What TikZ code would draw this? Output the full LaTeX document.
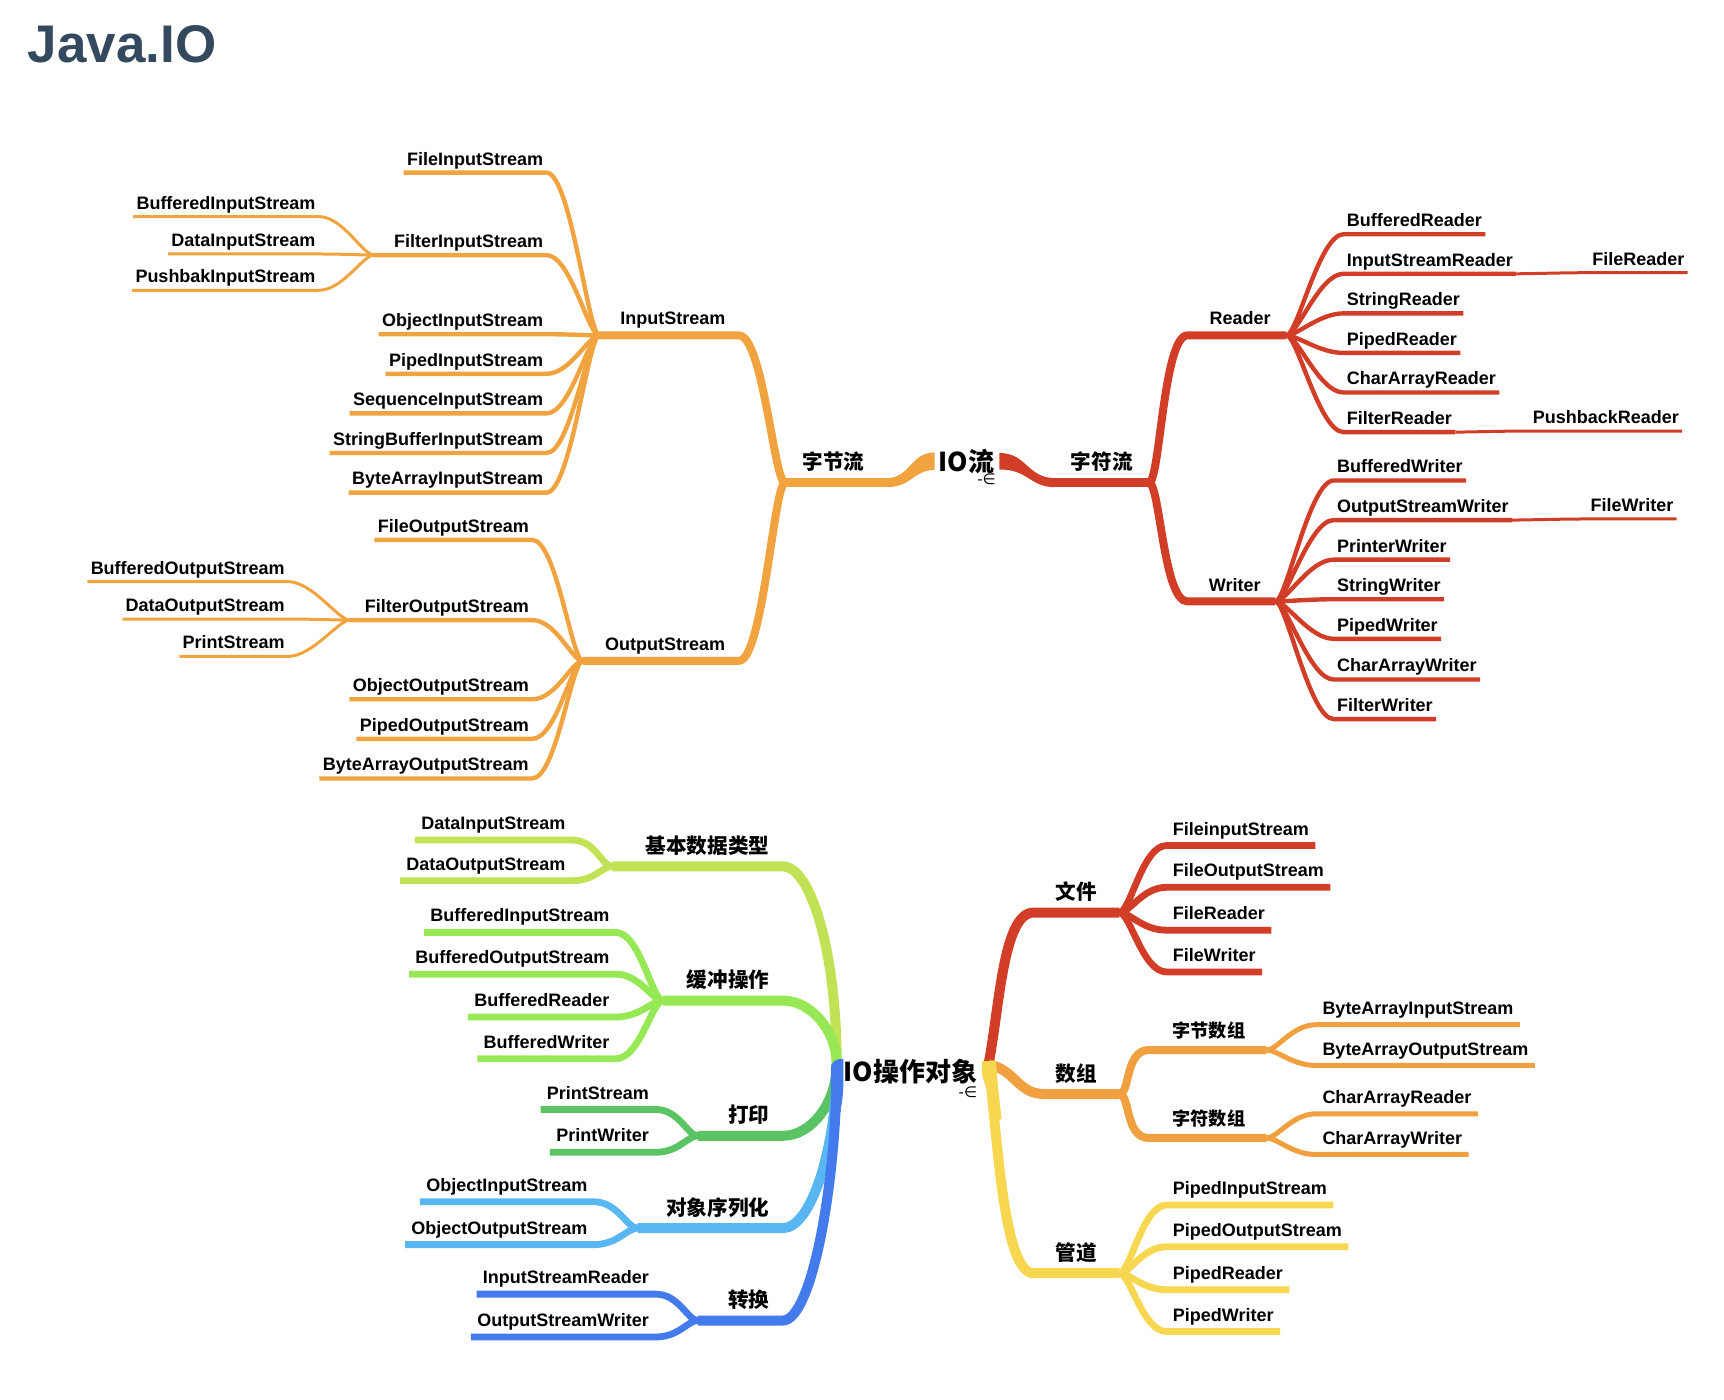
\documentclass[tikz,border=0pt]{standalone}
\usepackage{fontspec}
\setmainfont{Liberation Sans}
\newfontfamily\cjk{Noto Sans CJK SC}
\newfontfamily\dejavu{DejaVu Sans}
\usetikzlibrary{positioning}
\definecolor{titleblue}{RGB}{52,73,94}
\definecolor{ioorange}{RGB}{240,163,62}
\definecolor{iored}{RGB}{209,61,38}
\definecolor{oplime}{RGB}{193,226,84}
\definecolor{opgreen}{RGB}{150,233,85}
\definecolor{opprint}{RGB}{90,195,100}
\definecolor{opsky}{RGB}{88,183,243}
\definecolor{opblue}{RGB}{67,122,236}
\definecolor{opred}{RGB}{209,61,38}
\definecolor{oporange}{RGB}{240,160,62}
\definecolor{opyellow}{RGB}{247,214,80}

\begin{document}
\begin{tikzpicture}[
  x=0.55pt, y=-0.55pt,
  leaf/.style={font=\bfseries\fontsize{9}{10}\selectfont, text depth=0pt, inner xsep=1.5pt, inner ysep=3.6pt},
  bleaf/.style={leaf, inner xsep=3pt, inner ysep=5pt},
  mlabel/.style={font=\bfseries\fontsize{9}{10}\selectfont, text depth=0pt, inner xsep=0pt, inner ysep=5pt},
  hlabel/.style={font=\cjk\bfseries\fontsize{10.3}{12}\selectfont, text depth=0pt, inner xsep=0pt, inner ysep=6.3pt},
  slabel/.style={hlabel, font=\cjk\bfseries\fontsize{9.1}{11}\selectfont, inner ysep=6.2pt},
  rootlabel/.style={font=\cjk\bfseries\fontsize{13}{15}\selectfont, inner sep=0pt},
  fold/.style={font=\dejavu\fontsize{7.5}{8}\selectfont, inner sep=0pt},
  bl/.style={to path={.. controls +(-10,0) and +(22,0) .. (\tikztotarget) \tikztonodes}},
  br/.style={to path={.. controls +(10,0) and +(-22,0) .. (\tikztotarget) \tikztonodes}},
  w1/.style={line width=4.5pt},
  w2/.style={line width=4pt},
  w3/.style={line width=2.2pt},
  w4/.style={line width=1.5pt},
  v1/.style={line width=5pt},
  v2/.style={line width=3.4pt},
  v3/.style={line width=2.5pt}
]
\useasboundingbox (0,0) rectangle (1568,1273);

\node[font=\bfseries\fontsize{26.5}{30}\selectfont, text=titleblue, anchor=base west, inner sep=0pt] (title) at (25,57) {Java.IO};

% ---------------- IO流 ----------------
\node[rootlabel] (io) at (879,420) {IO流};
\node[fold, anchor=north east] (iofold) at (906,431) {-∈};
\fill[ioorange] (850,411.5) .. controls (828,411.5) and (828,434.9) .. (806,434.9) -- (806,443.1) .. controls (830,443.1) and (830,427.5) .. (850,427.5) -- cycle;
\fill[iored] (909,412) .. controls (934,412) and (934,434.9) .. (960,434.9) -- (960,443.1) .. controls (936,443.1) and (936,427) .. (909,427) -- cycle;

% 字节流
\coordinate (bs-o) at (807,439);
\coordinate (bs-j) at (714,439);
\node[hlabel, anchor=south] (bs) at (758,439) {字节流};
\draw[w1, ioorange] (bs-o) -- (bs-j);

% InputStream
\coordinate (is-o) at (672,305);
\coordinate (is-j) at (545,305);
\node[mlabel, anchor=south] (is) at (612,305) {InputStream};
\draw[w2, ioorange] (bs-j) to[bl] (is-o) -- (is-j);

\node[leaf, anchor=south east] (fis) at (497,157) {FileInputStream};
\node[leaf, anchor=south east] (filis) at (497,232) {FilterInputStream};
\coordinate (filis-j) at (340,232);
\node[leaf, anchor=south east] (ois) at (497,304) {ObjectInputStream};
\node[leaf, anchor=south east] (pis) at (497,340) {PipedInputStream};
\node[leaf, anchor=south east] (sqis) at (497,376) {SequenceInputStream};
\node[leaf, anchor=south east] (sbis) at (497,412) {StringBufferInputStream};
\node[leaf, anchor=south east] (bais) at (497,448) {ByteArrayInputStream};
\draw[w3, ioorange] (is-j) to[bl] (fis.south east) -- (fis.south west);
\draw[w3, ioorange] (is-j) to[bl] (filis.south east) -- (filis-j);
\draw[w3, ioorange] (is-j) to[bl] (ois.south east) -- (ois.south west);
\draw[w3, ioorange] (is-j) to[bl] (pis.south east) -- (pis.south west);
\draw[w3, ioorange] (is-j) to[bl] (sqis.south east) -- (sqis.south west);
\draw[w3, ioorange] (is-j) to[bl] (sbis.south east) -- (sbis.south west);
\draw[w3, ioorange] (is-j) to[bl] (bais.south east) -- (bais.south west);

\node[leaf, anchor=south east] (bfis) at (290,197) {BufferedInputStream};
\node[leaf, anchor=south east] (dis) at (290,231) {DataInputStream};
\node[leaf, anchor=south east] (pbis) at (290,264) {PushbakInputStream};
\draw[w4, ioorange] (filis-j) to[bl] (bfis.south east) -- (bfis.south west);
\draw[w4, ioorange] (filis-j) to[bl] (dis.south east) -- (dis.south west);
\draw[w4, ioorange] (filis-j) to[bl] (pbis.south east) -- (pbis.south west);

% OutputStream
\coordinate (os-o) at (672,601);
\coordinate (os-j) at (530,601);
\node[mlabel, anchor=south] (os) at (605,601) {OutputStream};
\draw[w2, ioorange] (bs-j) to[bl] (os-o) -- (os-j);

\node[leaf, anchor=south east] (fos) at (484,491) {FileOutputStream};
\node[leaf, anchor=south east] (filos) at (484,564) {FilterOutputStream};
\coordinate (filos-j) at (318,564);
\node[leaf, anchor=south east] (oos) at (484,636) {ObjectOutputStream};
\node[leaf, anchor=south east] (pos) at (484,672) {PipedOutputStream};
\node[leaf, anchor=south east] (baos) at (484,708) {ByteArrayOutputStream};
\draw[w3, ioorange] (os-j) to[bl] (fos.south east) -- (fos.south west);
\draw[w3, ioorange] (os-j) to[bl] (filos.south east) -- (filos-j);
\draw[w3, ioorange] (os-j) to[bl] (oos.south east) -- (oos.south west);
\draw[w3, ioorange] (os-j) to[bl] (pos.south east) -- (pos.south west);
\draw[w3, ioorange] (os-j) to[bl] (baos.south east) -- (baos.south west);

\node[leaf, anchor=south east] (bfos) at (262,529) {BufferedOutputStream};
\node[leaf, anchor=south east] (dos) at (262,563) {DataOutputStream};
\node[leaf, anchor=south east] (ps) at (262,597) {PrintStream};
\draw[w4, ioorange] (filos-j) to[bl] (bfos.south east) -- (bfos.south west);
\draw[w4, ioorange] (filos-j) to[bl] (dos.south east) -- (dos.south west);
\draw[w4, ioorange] (filos-j) to[bl] (ps.south east) -- (ps.south west);

% 字符流
\coordinate (cs-o) at (958,439);
\coordinate (cs-j) at (1045,439);
\node[hlabel, anchor=south] (cs) at (1002,439) {字符流};
\draw[w1, iored] (cs-o) -- (cs-j);

% Reader
\coordinate (rd-o) at (1080,305);
\coordinate (rd-j) at (1170,305);
\node[mlabel, anchor=south] (rd) at (1128,305) {Reader};
\draw[w2, iored] (cs-j) to[br] (rd-o) -- (rd-j);

\node[leaf, anchor=south west] (brd) at (1222,213) {BufferedReader};
\node[leaf, anchor=south west] (isr) at (1222,249) {InputStreamReader};
\node[leaf, anchor=south west] (srd) at (1222,285) {StringReader};
\node[leaf, anchor=south west] (prd) at (1222,321) {PipedReader};
\node[leaf, anchor=south west] (card) at (1222,357) {CharArrayReader};
\node[leaf, anchor=south west] (frd) at (1222,393) {FilterReader};
\node[leaf, anchor=south east] (flrd) at (1535,248) {FileReader};
\node[leaf, anchor=south east] (pbrd) at (1530,392) {PushbackReader};
\draw[w3, iored] (rd-j) to[br] (brd.south west) -- (brd.south east);
\draw[w3, iored] (rd-j) to[br] (isr.south west) -- (isr.south east);
\draw[w3, iored] (rd-j) to[br] (srd.south west) -- (srd.south east);
\draw[w3, iored] (rd-j) to[br] (prd.south west) -- (prd.south east);
\draw[w3, iored] (rd-j) to[br] (card.south west) -- (card.south east);
\draw[w3, iored] (rd-j) to[br] (frd.south west) -- (frd.south east);
\draw[w4, iored] (isr.south east) to[br] (flrd.south west) -- (flrd.south east);
\draw[w4, iored] (frd.south east) to[br] (pbrd.south west) -- (pbrd.south east);

% Writer
\coordinate (wr-o) at (1080,547);
\coordinate (wr-j) at (1160,547);
\node[mlabel, anchor=south] (wr) at (1123,547) {Writer};
\draw[w2, iored] (cs-j) to[br] (wr-o) -- (wr-j);

\node[leaf, anchor=south west] (bwr) at (1213,437) {BufferedWriter};
\node[leaf, anchor=south west] (osw) at (1213,473) {OutputStreamWriter};
\node[leaf, anchor=south west] (pwr) at (1213,509) {PrinterWriter};
\node[leaf, anchor=south west] (swr) at (1213,545) {StringWriter};
\node[leaf, anchor=south west] (piwr) at (1213,581) {PipedWriter};
\node[leaf, anchor=south west] (cawr) at (1213,618) {CharArrayWriter};
\node[leaf, anchor=south west] (fiwr) at (1213,654) {FilterWriter};
\node[leaf, anchor=south east] (flwr) at (1525,472) {FileWriter};
\draw[w3, iored] (wr-j) to[br] (bwr.south west) -- (bwr.south east);
\draw[w3, iored] (wr-j) to[br] (osw.south west) -- (osw.south east);
\draw[w3, iored] (wr-j) to[br] (pwr.south west) -- (pwr.south east);
\draw[w3, iored] (wr-j) to[br] (swr.south west) -- (swr.south east);
\draw[w3, iored] (wr-j) to[br] (piwr.south west) -- (piwr.south east);
\draw[w3, iored] (wr-j) to[br] (cawr.south west) -- (cawr.south east);
\draw[w3, iored] (wr-j) to[br] (fiwr.south west) -- (fiwr.south east);
\draw[w4, iored] (osw.south east) to[br] (flwr.south west) -- (flwr.south east);

% ---------------- IO操作对象 ----------------
\node[rootlabel] (op) at (828,975) {IO操作对象};
\node[fold, anchor=north east] (opfold) at (889,988) {-∈};
\coordinate (rl) at (761,968);
\coordinate (rr) at (899,968);

\coordinate (kb-o) at (712,788);
\coordinate (kb-j) at (557,788);
\node[hlabel, anchor=south east] (kb) at (700,788) {基本数据类型};
\coordinate (hc-o) at (712,910);
\coordinate (hc-j) at (603,910);
\node[hlabel, anchor=south east] (hc) at (700,910) {缓冲操作};
\coordinate (dy-o) at (712,1033);
\coordinate (dy-j) at (635,1033);
\node[hlabel, anchor=south east] (dy) at (700,1033) {打印};
\coordinate (dx-o) at (712,1117);
\coordinate (dx-j) at (580,1117);
\node[hlabel, anchor=south east] (dx) at (700,1117) {对象序列化};
\coordinate (zh-o) at (712,1201);
\coordinate (zh-j) at (635,1201);
\node[hlabel, anchor=south east] (zh) at (700,1201) {转换};

\draw[v1, oplime] (rl) .. controls +(0,-100) and +(26,0) .. (kb-o) -- (kb-j);
\draw[v1, opgreen] (rl) .. controls +(0,-30) and +(26,0) .. (hc-o) -- (hc-j);
\draw[v1, opprint] (rl) .. controls +(0,35) and +(26,0) .. (dy-o) -- (dy-j);
\draw[v1, opsky] (rl) .. controls +(0,75) and +(26,0) .. (dx-o) -- (dx-j);
\draw[v1, opblue] (rl) .. controls +(0,110) and +(26,0) .. (zh-o) -- (zh-j);
% thick root end of the blue branch
\fill[opblue] (767,963) -- (767,986) .. controls (767,1000) and (764,1012) .. (762,1024) -- (756,1024) .. controls (756,1000) and (755,980) .. (756,970) .. controls (757,965) and (761,963) .. (767,963) -- cycle;

\node[bleaf, anchor=south east] (dis2) at (520,764) {DataInputStream};
\node[bleaf, anchor=south east] (dos2) at (520,801) {DataOutputStream};
\draw[v2, oplime] (kb-j) to[bl] (dis2.south east) -- (dis2.south west);
\draw[v2, oplime] (kb-j) to[bl] (dos2.south east) -- (dos2.south west);

\node[bleaf, anchor=south east] (bfis2) at (560,848) {BufferedInputStream};
\node[bleaf, anchor=south east] (bfos2) at (560,886) {BufferedOutputStream};
\node[bleaf, anchor=south east] (brd2) at (560,925) {BufferedReader};
\node[bleaf, anchor=south east] (bwr2) at (560,963) {BufferedWriter};
\draw[v2, opgreen] (hc-j) to[bl] (bfis2.south east) -- (bfis2.south west);
\draw[v2, opgreen] (hc-j) to[bl] (bfos2.south east) -- (bfos2.south west);
\draw[v2, opgreen] (hc-j) to[bl] (brd2.south east) -- (brd2.south west);
\draw[v2, opgreen] (hc-j) to[bl] (bwr2.south east) -- (bwr2.south west);

\node[bleaf, anchor=south east] (ps2) at (596,1009) {PrintStream};
\node[bleaf, anchor=south east] (pw2) at (596,1048) {PrintWriter};
\draw[v2, opprint] (dy-j) to[bl] (ps2.south east) -- (ps2.south west);
\draw[v2, opprint] (dy-j) to[bl] (pw2.south east) -- (pw2.south west);

\node[bleaf, anchor=south east] (ois2) at (540,1093) {ObjectInputStream};
\node[bleaf, anchor=south east] (oos2) at (540,1132) {ObjectOutputStream};
\draw[v2, opsky] (dx-j) to[bl] (ois2.south east) -- (ois2.south west);
\draw[v2, opsky] (dx-j) to[bl] (oos2.south east) -- (oos2.south west);

\node[bleaf, anchor=south east] (isr2) at (596,1177) {InputStreamReader};
\node[bleaf, anchor=south east] (osw2) at (596,1216) {OutputStreamWriter};
\draw[v2, opblue] (zh-j) to[bl] (isr2.south east) -- (isr2.south west);
\draw[v2, opblue] (zh-j) to[bl] (osw2.south east) -- (osw2.south west);

% 文件 / 数组 / 管道
\coordinate (wj-o) at (940,830);
\coordinate (wj-j) at (1018,830);
\node[hlabel, anchor=south west] (wj) at (960,830) {文件};
\coordinate (sz-o) at (950,995);
\coordinate (sz-j) at (1018,995);
\node[hlabel, anchor=south west] (sz) at (960,995) {数组};
\coordinate (gd-o) at (940,1158);
\coordinate (gd-j) at (1018,1158);
\node[hlabel, anchor=south west] (gd) at (960,1158) {管道};

\draw[v1, opred] (rr) .. controls +(10,-50) and +(-28,0) .. (wj-o) -- (wj-j);
\draw[v1, oporange] (rr) .. controls +(25,5) and +(-25,0) .. (sz-o) -- (sz-j);
\draw[v1, opyellow] (rr) .. controls +(8,60) and +(-28,0) .. (gd-o) -- (gd-j);
% thick root end of the yellow branch
\fill[opyellow] (893,965) -- (906,965) .. controls (907,985) and (909,1000) .. (911,1018) -- (905,1018) .. controls (901,998) and (894,985) .. (893,975) -- cycle;

\node[bleaf, anchor=south west] (fis3) at (1061,769) {FileinputStream};
\node[bleaf, anchor=south west] (fos3) at (1061,807) {FileOutputStream};
\node[bleaf, anchor=south west] (frd3) at (1061,846) {FileReader};
\node[bleaf, anchor=south west] (fwr3) at (1061,884) {FileWriter};
\draw[v2, opred] (wj-j) to[br] (fis3.south west) -- (fis3.south east);
\draw[v2, opred] (wj-j) to[br] (fos3.south west) -- (fos3.south east);
\draw[v2, opred] (wj-j) to[br] (frd3.south west) -- (frd3.south east);
\draw[v2, opred] (wj-j) to[br] (fwr3.south west) -- (fwr3.south east);

\coordinate (zj-o) at (1045,955);
\coordinate (zj-j) at (1152,955);
\node[slabel, anchor=south west] (zj) at (1066,955) {字节数组};
\coordinate (zf-o) at (1045,1035);
\coordinate (zf-j) at (1152,1035);
\node[slabel, anchor=south west] (zf) at (1066,1035) {字符数组};
\draw[w2, oporange] (sz-j) to[br] (zj-o) -- (zj-j);
\draw[w2, oporange] (sz-j) to[br] (zf-o) -- (zf-j);

\node[bleaf, anchor=south west] (bais3) at (1197,932) {ByteArrayInputStream};
\node[bleaf, anchor=south west] (baos3) at (1197,969) {ByteArrayOutputStream};
\node[bleaf, anchor=south west] (car3) at (1197,1013) {CharArrayReader};
\node[bleaf, anchor=south west] (caw3) at (1197,1050) {CharArrayWriter};
\draw[v3, oporange] (zj-j) to[br] (bais3.south west) -- (bais3.south east);
\draw[v3, oporange] (zj-j) to[br] (baos3.south west) -- (baos3.south east);
\draw[v3, oporange] (zf-j) to[br] (car3.south west) -- (car3.south east);
\draw[v3, oporange] (zf-j) to[br] (caw3.south west) -- (caw3.south east);

\node[bleaf, anchor=south west] (pis3) at (1061,1096) {PipedInputStream};
\node[bleaf, anchor=south west] (pos3) at (1061,1134) {PipedOutputStream};
\node[bleaf, anchor=south west] (prd3) at (1061,1173) {PipedReader};
\node[bleaf, anchor=south west] (pwr3) at (1061,1211) {PipedWriter};
\draw[v2, opyellow] (gd-j) to[br] (pis3.south west) -- (pis3.south east);
\draw[v2, opyellow] (gd-j) to[br] (pos3.south west) -- (pos3.south east);
\draw[v2, opyellow] (gd-j) to[br] (prd3.south west) -- (prd3.south east);
\draw[v2, opyellow] (gd-j) to[br] (pwr3.south west) -- (pwr3.south east);
\end{tikzpicture}
\end{document}
